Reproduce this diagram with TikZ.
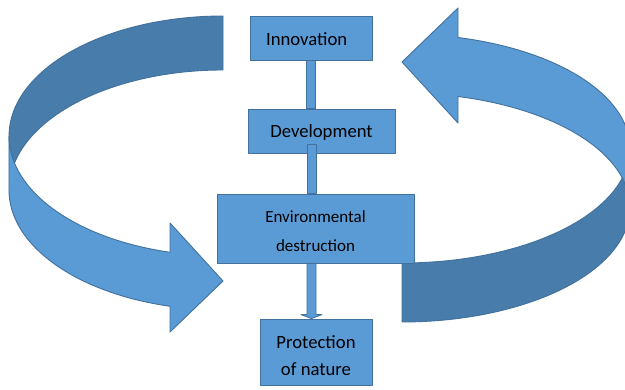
\documentclass[tikz,border=0pt]{standalone}
\usepackage{fontspec}
\setmainfont{Carlito}
\usetikzlibrary{calc}
\definecolor{fillblue}{RGB}{91,155,213}
\definecolor{bandblue}{RGB}{72,124,170}
\definecolor{edgeblue}{RGB}{65,113,156}

\begin{document}
\begin{tikzpicture}[x=1pt,y=1pt,
  outline/.style={draw=edgeblue, line width=0.9pt, line join=round},
  front/.style={outline, fill=fillblue},
  back/.style={outline, fill=bandblue},
  box/.style={front, inner sep=0pt, minimum width=#1},
  bar/.style={front},
  lbl/.style={inner sep=0pt, text=black, anchor=base},
  big/.style={font=\fontsize{18.7}{22}\selectfont},
  small/.style={font=\fontsize{17}{20}\selectfont}
]
\fill[white] (0,0) rectangle (625,389);
\useasboundingbox (0,0) rectangle (625,389);
\clip (0,0) rectangle (625,389);

% left curved arrow: back band, then front band with head pointing right
\draw[back] (223,373)
  arc[start angle=90, end angle=193, x radius=214, y radius=120]
  arc[start angle=167, end angle=90, x radius=214, y radius=120] -- cycle;
\draw[front] (9,253)
  arc[start angle=180, end angle=255.66, x radius=214, y radius=120]
  -- (170,166) -- (223,108) -- (170,57) -- (170,82.7)
  arc[start angle=255.66, end angle=180, x radius=214, y radius=120] -- cycle;

% right curved arrow: back band, then front band with head pointing left
\draw[back] (402,67)
  arc[start angle=270, end angle=374.93, x radius=228, y radius=114.5]
  arc[start angle=345.07, end angle=270, x radius=228, y radius=114.5] -- cycle;
\draw[front] (630,181.5)
  arc[start angle=0, end angle=75.78, x radius=228, y radius=114.5]
  -- (458,266) -- (402,327) -- (458,381) -- (458,351.5)
  arc[start angle=75.78, end angle=0, x radius=228, y radius=114.5] -- cycle;

% boxes
\node[box=122pt, minimum height=44pt] (inn)  at (311,351)   {};
\node[box=147pt, minimum height=44pt] (dev)  at (321.5,258) {};
\node[box=197pt, minimum height=69pt] (env)  at (315.5,160.5) {};
\node[box=112pt, minimum height=66pt] (prot) at (316,37)    {};

% connectors
\draw[bar] ([xshift=-5pt]inn.south) rectangle ([xshift=4pt]inn.south |- dev.north);
\draw[bar] ([xshift=-14.5pt,yshift=9pt]dev.south) rectangle ([xshift=-5.5pt]dev.south |- env.north);
\draw[bar] ($(env.south)+(-8.5,0)$) -- ($(prot.north)+(-9,4)$) -- ($(prot.north)+(-15,4)$)
  -- ($(prot.north)+(-4.5,0)$) -- ($(prot.north)+(6,4)$) -- ($(prot.north)+(0,4)$)
  -- ($(env.south)+(0.5,0)$) -- cycle;

% labels
\node[lbl, big]   (innT)  at (306.7,343) {Innovation};
\node[lbl, big]   (devT)  at (321.5,251) {Development};
\node[lbl, small] (envT1) at (315.5,166) {Environmental};
\node[lbl, small] (envT2) at (315.5,137) {destruction};
\node[lbl, big]   (proT1) at (316,41)    {Protection};
\node[lbl, big]   (proT2) at (316,13)    {of nature};
\end{tikzpicture}
\end{document}
